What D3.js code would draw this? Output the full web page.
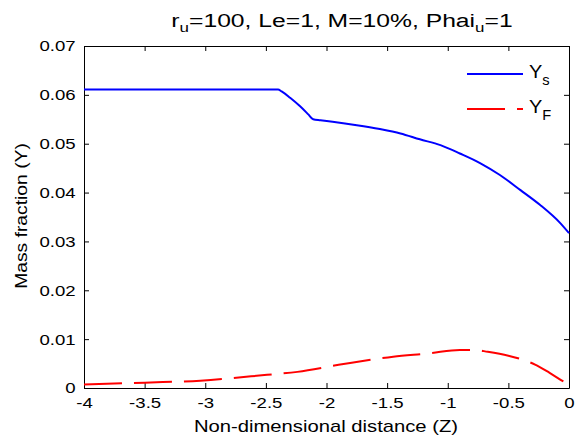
<!DOCTYPE html>
<html><head><meta charset="utf-8">
<script src="https://cdn.jsdelivr.net/npm/d3@7"></script>
<style>body{margin:0;background:#fff} svg{display:block} text{font-family:"Liberation Sans",Arial,sans-serif;fill:#000}</style>
</head><body><svg id="c" width="580" height="439"></svg>
<script>
// ---- data ----
const zYs = [-4,-2.4,-2.37,-2.3,-2.22,-2.15,-2.11,-2.05,-1.95,-1.75,-1.56,-1.39,-1.23,-1.06,-0.90,-0.73,-0.57,-0.40,-0.24,-0.07,0];
const valYs = [0.0611,0.0611,0.0607,0.0594,0.0577,0.0560,0.0550,0.0548,0.0545,0.0538,0.0530,0.0521,0.0509,0.0497,0.0480,0.0460,0.0436,0.0405,0.0375,0.0337,0.0317];
const zYf = [-4,-3.5,-3.04,-2.49,-2.24,-1.86,-1.45,-1.15,-0.9,-0.78,-0.67,-0.5,-0.38,-0.28,-0.16,-0.03,0];
const valYf = [0.0007,0.0011,0.0015,0.0027,0.0033,0.0049,0.0064,0.0071,0.0078,0.0078,0.0074,0.0066,0.0058,0.0048,0.0031,0.0011,0.0007];
const xTicks = [-4,-3.5,-3,-2.5,-2,-1.5,-1,-0.5,0];
const xTickLabels = ["-4","-3.5","-3","-2.5","-2","-1.5","-1","-0.5","0"];
const yTicks = [0,0.01,0.02,0.03,0.04,0.05,0.06,0.07];
const yTickLabels = ["0","0.01","0.02","0.03","0.04","0.05","0.06","0.07"];
const seriesNames = ["Y", "Y"];
const seriesSubs = ["s", "F"];

// ---- layout ----
const L = 84, R = 569, T = 46, B = 388;
const svg = d3.select("#c");
const x = d3.scaleLinear().domain([-4, 0]).range([L, R]);
const y = d3.scaleLinear().domain([0, 0.07]).range([B, T]);

function axisStyle(g){
  g.selectAll("path.domain").attr("stroke","#000").attr("stroke-width",1);
  g.selectAll(".tick line").attr("stroke","#000").attr("stroke-width",1);
  g.selectAll("text").attr("font-family",null).attr("font-size",null);
}

const gB = svg.append("g").attr("transform",`translate(0,${B})`)
  .call(d3.axisBottom(x).tickValues(xTicks).tickFormat((d,i)=>xTickLabels[i]).tickSizeInner(-5).tickSizeOuter(0).tickPadding(9));
axisStyle(gB);
gB.selectAll("text").style("font-size","15.5px").attr("transform","scale(1.2,1)");

const gT = svg.append("g").attr("transform",`translate(0,${T})`)
  .call(d3.axisTop(x).tickValues(xTicks).tickFormat("").tickSizeInner(-5).tickSizeOuter(0));
axisStyle(gT);

const gL = svg.append("g").attr("transform",`translate(${L},0)`)
  .call(d3.axisLeft(y).tickValues(yTicks).tickFormat((d,i)=>yTickLabels[i]).tickSizeInner(-5).tickSizeOuter(0).tickPadding(7));
axisStyle(gL);
gL.selectAll("text").style("font-size","15.5px").attr("transform","scale(1.2,1)");

const gR = svg.append("g").attr("transform",`translate(${R},0)`)
  .call(d3.axisRight(y).tickValues(yTicks).tickFormat("").tickSizeInner(-5).tickSizeOuter(0));
axisStyle(gR);

// ---- lines ----
const line = d3.line().x(d=>x(d[0])).y(d=>y(d[1])).curve(d3.curveMonotoneX);
svg.append("path").datum(zYs.map((z,i)=>[z,valYs[i]]))
  .attr("d",line).attr("fill","none").attr("stroke","#0000ff").attr("stroke-width",2);
svg.append("path").datum(zYf.map((z,i)=>[z,valYf[i]]))
  .attr("d",line).attr("fill","none").attr("stroke","#ff0000").attr("stroke-width",2)
  .attr("stroke-dasharray","38,12");

// ---- title ----
const title = svg.append("text").attr("transform","translate(342,27) scale(1.3,1)")
  .attr("text-anchor","middle").style("font-size","19px");
title.append("tspan").text("r");
title.append("tspan").attr("dy",5).style("font-size","13px").text("u");
title.append("tspan").attr("dy",-5).text("=100, Le=1, M=10%, Phai");
title.append("tspan").attr("dy",5).style("font-size","13px").text("u");
title.append("tspan").attr("dy",-5).text("=1");

// ---- axis labels ----
svg.append("text").attr("transform","translate(326,432) scale(1.19,1)")
  .attr("text-anchor","middle").style("font-size","17px").text("Non-dimensional distance (Z)");
svg.append("text").attr("transform","translate(27,216) rotate(-90) scale(1.17,1)")
  .attr("text-anchor","middle").style("font-size","16.5px").text("Mass fraction (Y)");

// ---- legend ----
const legY = [74, 109];
svg.append("line").attr("x1",467).attr("x2",523).attr("y1",legY[0]).attr("y2",legY[0])
  .attr("stroke","#0000ff").attr("stroke-width",2);
svg.append("line").attr("x1",467).attr("x2",523).attr("y1",legY[1]).attr("y2",legY[1])
  .attr("stroke","#ff0000").attr("stroke-width",2).attr("stroke-dasharray","38,12");
seriesNames.forEach((n,i)=>{
  const t = svg.append("text").attr("transform",`translate(529,${legY[i]+4}) scale(1.05,1)`)
    .style("font-size","19px");
  t.append("tspan").text(n);
  t.append("tspan").attr("dy",7).style("font-size","14px").text(seriesSubs[i]);
});
</script></body></html>
